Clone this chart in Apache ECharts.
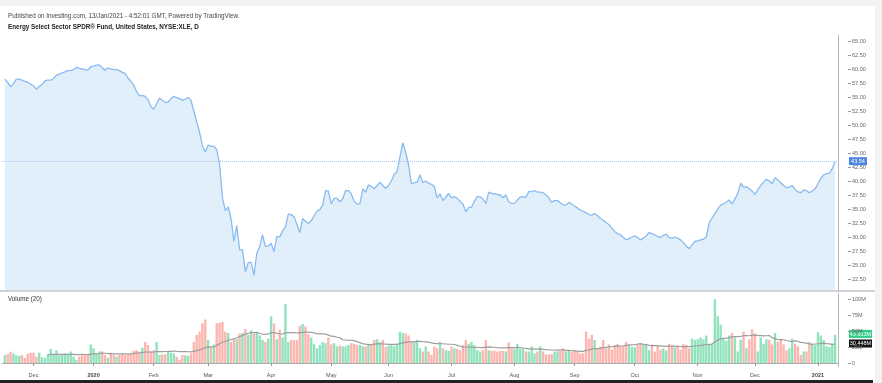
<!DOCTYPE html>
<html><head><meta charset="utf-8">
<script src="https://cdn.jsdelivr.net/npm/echarts@6/dist/echarts.min.js"></script>
<style>html,body{margin:0;padding:0;background:#fff;overflow:hidden}#c{width:882px;height:383px}</style>
</head><body><div id="c"></div><script>
// Daily closes, NYSE:XLE, 15 Nov 2019 .. 12 Jan 2021
const price = [
58.2,57.6,56.8,57.4,58.2,58.2,58.0,57.8,57.6,57.3,
57.0,56.4,56.9,57.2,57.9,58.0,58.0,58.3,58.9,59.1,
59.3,59.5,59.7,59.7,59.9,60.3,60.1,60.0,59.9,59.8,
60.4,60.5,60.7,60.7,60.2,59.8,60.2,60.0,59.9,59.9,
59.7,59.4,59.2,58.4,57.8,57.1,56.0,55.2,55.3,55.1,
54.5,53.3,52.8,53.8,54.8,54.4,54.0,54.1,54.7,55.1,
54.9,54.7,54.4,54.6,54.9,54.4,52.5,50.6,48.7,46.3,
45.2,46.4,46.2,46.2,45.6,43.0,37.0,34.7,35.4,33.3,
29.2,32.1,27.7,27.7,23.8,25.4,25.5,23.2,27.1,28.3,
30.4,28.3,28.4,28.9,27.4,30.1,30.0,31.1,31.8,34.1,
34.0,33.6,32.3,30.8,33.3,32.8,32.4,32.9,33.8,34.6,
34.9,35.7,38.3,38.2,35.9,36.9,36.9,36.3,36.8,38.3,
38.3,37.7,36.4,35.9,35.9,38.6,38.0,39.3,39.0,38.6,
39.2,39.8,39.2,38.7,39.2,40.0,41.2,41.7,44.3,46.8,
45.1,42.9,39.5,39.7,39.8,41.1,39.7,40.0,39.6,39.4,
39.0,37.0,37.7,36.5,37.1,37.8,37.0,37.2,36.9,36.4,
35.9,34.5,35.3,35.3,36.4,37.2,37.2,36.8,36.0,38.0,
37.8,37.7,37.6,37.5,37.0,37.5,36.3,36.0,36.0,36.6,
37.1,37.2,37.1,38.1,38.1,38.3,38.0,38.0,37.9,37.5,
37.0,36.2,36.5,36.5,36.1,35.7,35.7,36.2,35.9,35.5,
35.2,34.8,34.6,34.3,34.0,33.9,34.2,33.8,33.3,33.0,
32.6,32.2,31.6,31.0,30.6,30.4,29.9,29.5,29.7,30.0,
30.2,29.9,29.5,29.8,30.2,30.8,30.6,30.4,30.1,29.9,
30.3,30.5,29.9,29.8,30.0,29.8,29.5,29.0,28.4,27.9,
28.6,29.2,29.3,29.5,29.6,30.0,32.5,33.4,34.2,35.0,
35.7,35.9,36.2,36.6,35.9,36.8,37.8,39.6,38.9,39.0,
38.6,38.2,37.6,38.4,39.2,39.8,40.3,40.0,39.5,40.6,
40.2,39.7,39.2,38.8,38.9,39.2,38.5,38.1,37.9,38.4,
38.3,37.9,38.2,38.6,39.5,40.5,41.1,41.3,41.4,42.2,
43.54];
// Daily volume, millions of shares
const volumeM = [
12.5,14,17.7,15,12,11,12.5,8,15,16,
16,10,16,9,8,13.5,21.8,12.5,20,12,
12.5,15,14,18,10,5,10,12.5,14,12.5,
29,23,15,18,18,12.5,8,16,12.5,10,
12.5,15,12.5,14,15,19,20,18,24,33,
28,18,20,33,12.5,13.5,13.5,18,16,15,
10,5,12.5,12,11,15,33,43.8,49,62,
68,36,26,29,62,63,64,49,47,33,
38,37,46,47,53,44,51,46,49,43,
36,33,38,73,62,37,52,40,92,33,
36,36,36,58,61,57,45,40,30,23,
28,33,31,40,29,31,26,27,26,26,
28,31,30,28,28,26,26,30,28,36,
37,33,36,25,27,28,26,30,49,47,
46,43,34,33,36,23,18,26,18,12.5,
26,23,33,23,20,19,26,23,22,20,
28,36,30,33,28,20,18,20,36,20,
19,19,18,19,19,18,32,23,22,30,
22,23,18,18,26,15,18,26,18,13.5,
13.5,14,18,18,20,23,18,19,17,20,
18,15,15,49,38,44,36,23,26,36,
23,29,21,28,30,25,27,33,28,25,
25,28,30,30,30,20,29,18,27,21,
23,20,30,28,24,26,21,30,28,23,
38,36,37,40,37,43,30,30,99.5,73,
60,38,35,43,47,40,18,36,49,23,
37,52.6,46,18,40,30,37,36,29,47,
33,36,29,20,23,38,30,26,12.5,18,
18,33,30,28,48,43,36,26,25,30,
43.913];
const priceTicks = [22.5,25,27.5,30,32.5,35,37.5,40,42.5,45,47.5,50,52.5,55,57.5,60,62.5,65];
const volumeTicks = [0,25,50,75,100];
const lastPrice = 43.54;
const lastVolumeText = '43.913M';
const maText = '30.448M';
const maPeriod = 20;
const holidays = ['2019-11-28','2019-12-25','2020-01-01','2020-01-20','2020-02-17','2020-04-10',
  '2020-05-25','2020-07-03','2020-09-07','2020-11-26','2020-12-25','2021-01-01'];
const monthNames = ['Jan','Feb','Mar','Apr','May','Jun','Jul','Aug','Sep','Oct','Nov','Dec'];

function tradingDays(start, end){
  const out=[]; let d=new Date(start+'T00:00:00Z'); const e=new Date(end+'T00:00:00Z');
  while(d<=e){ const wd=d.getUTCDay(); const s=d.toISOString().slice(0,10);
    if(wd!==0&&wd!==6&&holidays.indexOf(s)<0) out.push(s);
    d=new Date(d.getTime()+86400000);} return out;
}
const dates = tradingDays('2019-11-14','2021-01-13'); // one blank day each side
const priceData = [null].concat(price).concat([null]);
const volData = [null].concat(volumeM.map((v,k)=>({value:v,
  itemStyle:{color:(k===0||price[k]>=price[k-1])?'#91e2bd':'#fbb6b0'}}))).concat([null]);
const maData = [null];
for(let k=0;k<volumeM.length;k++){
  if(k<15){maData.push(null);continue;}
  const s=Math.max(0,k-maPeriod+1); let sum=0; for(let j=s;j<=k;j++) sum+=volumeM[j];
  maData.push(+(sum/(k-s+1)).toFixed(2));
}
maData.push(null);

function isMonthStart(i){ if(i<=0) return false; return dates[i].slice(5,7)!==dates[i-1].slice(5,7); }
const FONT='Arial, "Liberation Sans", sans-serif';
const chart = echarts.init(document.getElementById('c'), null, {renderer:'canvas'});
const axisLabelStyle = {fontSize:5.5, color:'#666', fontFamily:FONT};
chart.setOption({
  animation:false,
  grid:[{left:2,right:44,top:35,height:255},{left:2,right:44,top:293,height:74}],
  xAxis:[
    {type:'category',gridIndex:0,data:dates,boundaryGap:false,show:false},
    {type:'category',gridIndex:1,data:dates,boundaryGap:false,
      axisLine:{lineStyle:{color:'#aaa',width:1}},
      axisTick:{interval:(i)=>isMonthStart(i),length:3,lineStyle:{color:'#999'}},
      axisLabel:{interval:(i)=>isMonthStart(i),margin:5,fontSize:5.5,color:'#555',fontFamily:FONT,
        formatter:(v)=>{const m=+v.slice(5,7)-1; return m===0?'{b|'+v.slice(0,4)+'}':monthNames[m];},
        rich:{b:{fontWeight:'bold',fontSize:5.5,color:'#444',fontFamily:FONT}}},
      splitLine:{show:false}}
  ],
  yAxis:[
    {type:'value',gridIndex:0,position:'right',offset:10,min:20.54,max:66.07,
      axisLine:{show:false},splitLine:{show:false},
      axisTick:{show:true,length:3,customValues:priceTicks,lineStyle:{color:'#999'}},
      axisLabel:Object.assign({customValues:priceTicks,margin:4,formatter:(v)=>v.toFixed(2)},axisLabelStyle)},
    {type:'value',gridIndex:1,position:'right',offset:10,min:-6.25,max:109.4,
      axisLine:{show:false},splitLine:{show:false},
      axisTick:{show:true,length:3,customValues:volumeTicks,lineStyle:{color:'#999'}},
      axisLabel:Object.assign({customValues:volumeTicks,margin:4,formatter:(v)=>v===0?'0':v+'M'},axisLabelStyle)},
    {type:'value',gridIndex:0,position:'right',min:0,max:1,axisLine:{show:true,lineStyle:{color:'#b8b8b8'}},
      axisTick:{show:false},axisLabel:{show:false},splitLine:{show:false}},
    {type:'value',gridIndex:1,position:'right',min:0,max:1,axisLine:{show:true,lineStyle:{color:'#b8b8b8'}},
      axisTick:{show:false},axisLabel:{show:false},splitLine:{show:false}}
  ],
  series:[
    {type:'line',xAxisIndex:0,yAxisIndex:0,data:priceData,showSymbol:false,
      lineStyle:{color:'#8abbef',width:1.3},areaStyle:{color:'#e1effb',opacity:1},
      markLine:{silent:true,symbol:'none',label:{show:false},
        lineStyle:{color:'#a9caee',type:'dotted',width:1},data:[{yAxis:lastPrice}]}},
    {type:'bar',xAxisIndex:1,yAxisIndex:1,data:volData,barWidth:2.4},
    {type:'line',xAxisIndex:1,yAxisIndex:1,data:maData,showSymbol:false,z:3,
      lineStyle:{color:'#9e9e9e',width:1.2}}
  ]
});
const yP = chart.convertToPixel({yAxisIndex:0}, lastPrice);
const yV = chart.convertToPixel({yAxisIndex:1}, parseFloat(lastVolumeText));
const yM = chart.convertToPixel({yAxisIndex:1}, parseFloat(maText));
function tag(y,text,bg,w){
  return {type:'group',x:849,y:y-4,z:10,children:[
    {type:'rect',shape:{x:0,y:0,width:w,height:8},style:{fill:bg}},
    {type:'text',x:w/2,y:4.3,style:{text:text,fill:'#fff',fontSize:5.5,fontFamily:FONT,align:'center',verticalAlign:'middle'}}]};
}
chart.setOption({graphic:[
  {type:'rect',shape:{x:0,y:0,width:882,height:6},style:{fill:'#f3f3f3'}},
  {type:'rect',shape:{x:875,y:0,width:7,height:383},style:{fill:'#f3f3f3'}},
  {type:'rect',shape:{x:0,y:290,width:875,height:2},style:{fill:'#cfd3d8'}},
  {type:'rect',shape:{x:0,y:380,width:873,height:3},style:{fill:'#222'}},
  {type:'text',x:8,y:16,style:{text:'Published on Investing.com, 13/Jan/2021 - 4:52:01 GMT, Powered by TradingView.',fill:'#444',fontSize:6.3,fontFamily:FONT,verticalAlign:'middle'}},
  {type:'text',x:8,y:27,style:{text:'Energy Select Sector SPDR® Fund, United States, NYSE:XLE, D',fill:'#222',fontSize:6.3,fontWeight:'bold',fontFamily:FONT,verticalAlign:'middle'}},
  {type:'text',x:10,y:281,style:{text:'Investing',fill:'#2b2b2b',fontSize:10,fontWeight:'bold',fontFamily:FONT,verticalAlign:'middle'}},
  {type:'text',x:54,y:282,style:{text:'.com',fill:'#8a8a8a',fontSize:6.5,fontFamily:FONT,verticalAlign:'middle'}},
  {type:'text',x:8,y:299,style:{text:'Volume (20)',fill:'#333',fontSize:6.3,fontFamily:FONT,verticalAlign:'middle'}},
  tag(yP,String(lastPrice.toFixed(2)),'#4a86e0',18),
  tag(yV-1,lastVolumeText,'#2fcf8a',23),
  tag(Math.max(yM,yV+8),maText,'#111',23)
]});
</script></body></html>
